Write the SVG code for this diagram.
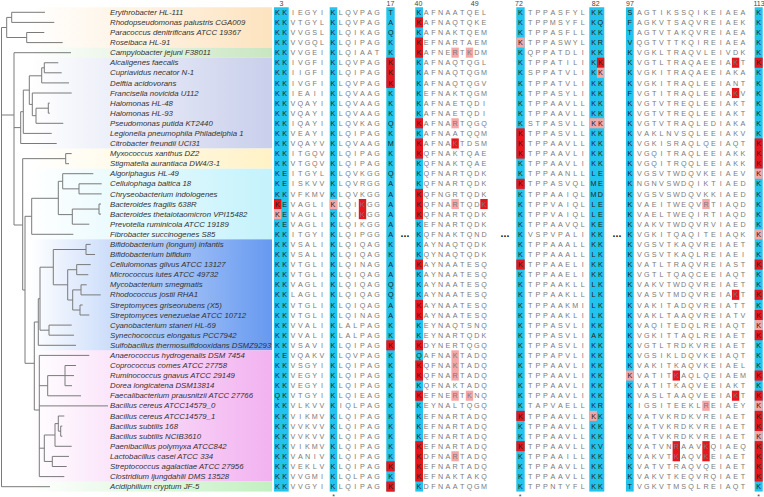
<svg xmlns="http://www.w3.org/2000/svg" width="764" height="497" viewBox="0 0 764 497">
<style>
.t{font-family:"Liberation Sans",Arial,sans-serif;font-style:italic;font-size:7.8px;fill:#333}
.s{font-family:"Liberation Sans",Arial,sans-serif;font-size:7.2px;fill:#7a7a7a;text-anchor:middle}
.h{fill:#222}
.hd{font-family:"Liberation Sans",Arial,sans-serif;font-size:7px;fill:#444;text-anchor:middle}
.dt{font-family:"Liberation Sans",Arial,sans-serif;font-size:10.5px;font-weight:bold;fill:#111;text-anchor:middle}
.cy{fill:#22c4ee}
.rd{fill:#e5171c}
.pk{fill:#f5a6a6}
#tree path{stroke:#7a7a7a;fill:none;stroke-width:1}
</style>
<defs>
<linearGradient id="gPe" gradientUnits="userSpaceOnUse" x1="30" y1="0" x2="272" y2="0"><stop offset="0" stop-color="#fde3bf" stop-opacity="0"/><stop offset="1" stop-color="#fde3bf"/></linearGradient>
<linearGradient id="gG1" gradientUnits="userSpaceOnUse" x1="30" y1="0" x2="272" y2="0"><stop offset="0" stop-color="#c8e6c0" stop-opacity="0"/><stop offset="1" stop-color="#c8e6c0"/></linearGradient>
<linearGradient id="gLa" gradientUnits="userSpaceOnUse" x1="30" y1="0" x2="272" y2="0"><stop offset="0" stop-color="#c9cfec" stop-opacity="0"/><stop offset="1" stop-color="#c9cfec"/></linearGradient>
<linearGradient id="gYe" gradientUnits="userSpaceOnUse" x1="30" y1="0" x2="272" y2="0"><stop offset="0" stop-color="#fff2c6" stop-opacity="0"/><stop offset="1" stop-color="#fff2c6"/></linearGradient>
<linearGradient id="gCy" gradientUnits="userSpaceOnUse" x1="30" y1="0" x2="272" y2="0"><stop offset="0" stop-color="#c4f2fb" stop-opacity="0"/><stop offset="1" stop-color="#c4f2fb"/></linearGradient>
<linearGradient id="gBl" gradientUnits="userSpaceOnUse" x1="30" y1="0" x2="272" y2="0"><stop offset="0" stop-color="#6699f0" stop-opacity="0"/><stop offset="1" stop-color="#6699f0"/></linearGradient>
<linearGradient id="gPi" gradientUnits="userSpaceOnUse" x1="30" y1="0" x2="272" y2="0"><stop offset="0" stop-color="#f2b2f0" stop-opacity="0"/><stop offset="1" stop-color="#f2b2f0"/></linearGradient>
<linearGradient id="gG2" gradientUnits="userSpaceOnUse" x1="30" y1="0" x2="272" y2="0"><stop offset="0" stop-color="#c2f0c0" stop-opacity="0"/><stop offset="1" stop-color="#c2f0c0"/></linearGradient>
</defs>
<rect width="764" height="497" fill="#fff"/>
<g id="bands">
<rect x="30" y="7.25" width="242" height="40.36" fill="url(#gPe)"/>
<rect x="30" y="47.61" width="242" height="10.09" fill="url(#gG1)"/>
<rect x="30" y="57.7" width="242" height="90.81" fill="url(#gLa)"/>
<rect x="30" y="148.51" width="242" height="20.18" fill="url(#gYe)"/>
<rect x="30" y="168.69" width="242" height="70.63" fill="url(#gCy)"/>
<rect x="30" y="239.32" width="242" height="110.99" fill="url(#gBl)"/>
<rect x="30" y="350.31" width="242" height="131.17" fill="url(#gPi)"/>
<rect x="30" y="481.48" width="242" height="10.09" fill="url(#gG2)"/>
</g>
<g id="columns">
<rect class="cy" x="274" y="7.25" width="14.7" height="484.32"/>
<rect class="cy" x="329.7" y="7.25" width="7.6" height="484.32"/>
<rect class="cy" x="386.3" y="7.25" width="8.4" height="484.32"/>
<rect class="cy" x="415.3" y="7.25" width="7.7" height="484.32"/>
<rect class="cy" x="516.3" y="7.25" width="8.4" height="484.32"/>
<rect class="cy" x="589.3" y="7.25" width="15" height="484.32"/>
<rect class="cy" x="626" y="7.25" width="7.7" height="484.32"/>
<rect class="cy" x="754.7" y="7.25" width="8" height="484.32"/>
</g>
<g id="marks">
<rect class="rd" x="386.3" y="57.7" width="8.4" height="30.27"/>
<rect class="rd" x="274" y="198.96" width="7.3" height="10.09"/>
<rect class="pk" x="274" y="209.05" width="7.3" height="10.09"/>
<rect class="pk" x="329.7" y="198.96" width="7.6" height="10.09"/>
<rect class="rd" x="358.8" y="198.96" width="7.4" height="20.18"/>
<rect class="rd" x="386.3" y="340.22" width="8.4" height="10.09"/>
<rect class="rd" x="386.3" y="461.3" width="8.4" height="10.09"/>
<rect class="rd" x="386.3" y="481.48" width="8.4" height="10.09"/>
<rect class="rd" x="415.3" y="17.34" width="7.7" height="10.09"/>
<rect class="rd" x="415.3" y="37.52" width="7.7" height="20.18"/>
<rect class="rd" x="415.3" y="118.24" width="7.7" height="10.09"/>
<rect class="rd" x="415.3" y="138.42" width="7.7" height="20.18"/>
<rect class="rd" x="415.3" y="188.87" width="7.7" height="30.27"/>
<rect class="rd" x="415.3" y="259.5" width="7.7" height="10.09"/>
<rect class="rd" x="415.3" y="299.86" width="7.7" height="20.18"/>
<rect class="rd" x="415.3" y="340.22" width="7.7" height="10.09"/>
<rect class="rd" x="415.3" y="360.4" width="7.7" height="20.18"/>
<rect class="rd" x="415.3" y="390.67" width="7.7" height="10.09"/>
<rect class="rd" x="415.3" y="441.12" width="7.7" height="40.36"/>
<rect class="pk" x="451.4" y="47.61" width="7.4" height="10.09"/>
<rect class="pk" x="451.4" y="118.24" width="7.4" height="10.09"/>
<rect class="rd" x="451.4" y="138.42" width="7.4" height="10.09"/>
<rect class="pk" x="451.4" y="198.96" width="7.4" height="10.09"/>
<rect class="pk" x="451.4" y="350.31" width="7.4" height="30.27"/>
<rect class="pk" x="451.4" y="390.67" width="7.4" height="10.09"/>
<rect class="pk" x="451.4" y="451.21" width="7.4" height="10.09"/>
<rect class="pk" x="465.8" y="47.61" width="7.4" height="10.09"/>
<rect class="pk" x="465.8" y="390.67" width="7.4" height="10.09"/>
<rect class="rd" x="480.3" y="198.96" width="7.4" height="10.09"/>
<rect class="pk" x="516.3" y="37.52" width="8.4" height="10.09"/>
<rect class="rd" x="516.3" y="128.33" width="8.4" height="30.27"/>
<rect class="rd" x="516.3" y="178.78" width="8.4" height="10.09"/>
<rect class="rd" x="516.3" y="259.5" width="8.4" height="10.09"/>
<rect class="rd" x="516.3" y="410.85" width="8.4" height="10.09"/>
<rect class="rd" x="516.3" y="441.12" width="8.4" height="10.09"/>
<rect class="rd" x="596.9" y="57.7" width="7.4" height="10.09"/>
<rect class="pk" x="596.9" y="67.79" width="7.4" height="10.09"/>
<rect class="pk" x="589.3" y="118.24" width="15" height="10.09"/>
<rect class="pk" x="589.3" y="410.85" width="7.6" height="10.09"/>
<rect class="pk" x="626" y="370.49" width="7.7" height="10.09"/>
<rect class="rd" x="672.6" y="370.49" width="7.4" height="10.09"/>
<rect class="rd" x="672.6" y="441.12" width="7.4" height="20.18"/>
<rect class="pk" x="702.3" y="198.96" width="7.4" height="10.09"/>
<rect class="pk" x="702.3" y="400.76" width="7.4" height="10.09"/>
<rect class="rd" x="702.3" y="441.12" width="7.4" height="20.18"/>
<rect class="rd" x="731.9" y="57.7" width="7.4" height="10.09"/>
<rect class="rd" x="731.9" y="87.97" width="7.4" height="10.09"/>
<rect class="rd" x="731.9" y="289.77" width="7.4" height="10.09"/>
<rect class="rd" x="731.9" y="390.67" width="7.4" height="10.09"/>
<rect class="rd" x="754.7" y="57.7" width="8" height="10.09"/>
<rect class="rd" x="754.7" y="138.42" width="8" height="30.27"/>
<rect class="pk" x="754.7" y="168.69" width="8" height="10.09"/>
<rect class="pk" x="754.7" y="229.23" width="8" height="10.09"/>
<rect class="rd" x="754.7" y="259.5" width="8" height="10.09"/>
<rect class="rd" x="754.7" y="289.77" width="8" height="10.09"/>
<rect class="rd" x="754.7" y="309.95" width="8" height="10.09"/>
<rect class="pk" x="754.7" y="320.04" width="8" height="10.09"/>
<rect class="rd" x="754.7" y="330.13" width="8" height="10.09"/>
<rect class="rd" x="754.7" y="370.49" width="8" height="10.09"/>
<rect class="rd" x="754.7" y="390.67" width="8" height="10.09"/>
<rect class="pk" x="754.7" y="400.76" width="8" height="10.09"/>
<rect class="rd" x="754.7" y="410.85" width="8" height="20.18"/>
<rect class="pk" x="754.7" y="431.03" width="8" height="10.09"/>
<rect class="rd" x="754.7" y="441.12" width="8" height="40.36"/>
</g>
<g id="header">
<text class="hd" x="281.5" y="6">3</text>
<text class="hd" x="390.5" y="6">17</text>
<text class="hd" x="418.5" y="6">40</text>
<text class="hd" x="474.7" y="6">49</text>
<text class="hd" x="519" y="6">72</text>
<text class="hd" x="595.7" y="6">82</text>
<text class="hd" x="630" y="6">97</text>
<text class="hd" x="759" y="6">113</text>
</g>
<g id="tree">
<path d="M1.5 27.5V486.7M1.5 27.5H6.7M1.5 115H14M1.5 486.7H50"/>
<path d="M6.7 17.4V37.5M6.7 17.4H11.7M6.7 37.5H26.7M11.7 12.3V22.4M11.7 12.3H45M11.7 22.4H54.3M26.7 32.5V42.6M26.7 32.5H44.3M26.7 42.6H62.7"/>
<path d="M14 52.7V225M14 52.7H71M14 127.6H20.7M14 225H22.7"/>
<path d="M20.7 111.7V143.5M20.7 111.7H23.3M20.7 143.5H56.7M23.3 90.1V133.4M23.3 90.1H29.3M23.3 133.4H51.7M29.3 75.8V104.4M29.3 75.8H41.7M29.3 104.4H32.3M41.7 67.8V82.9M41.7 67.8H44.3M41.7 82.9H69M44.3 62.75V72.8M44.3 62.75H58.3M44.3 72.8H61.7M32.3 93V115.7M32.3 93H71.7M32.3 115.7H36M36 108.2V123.3M36 108.2H48.3M36 123.3H63.3M48.3 103.1V113.2M48.3 103.1H49.8M48.3 113.2H49.8"/>
<path d="M22.7 158.65V290M22.7 158.65H65.7M22.7 290H25M65.7 153.6V163.7M65.7 153.6H71.7M65.7 163.7H69"/>
<path d="M25 216.3V363.3M25 216.3H31.7M25 363.3H34.3M31.7 198.3V234.3M31.7 198.3H58.3M31.7 234.3H73.3M58.3 181.3V214.6M58.3 181.3H62.7M58.3 214.6H72.3M62.7 173.7V188.85M62.7 173.7H93.3M62.7 188.85H79M79 183.8V193.9M79 183.8H101.7M79 193.9H101.7M72.3 209.05V224.2M72.3 209.05H99M72.3 224.2H89.3M99 204V214.1M99 204H101M99 214.1H101"/>
<path d="M34.3 322V410M34.3 322H38.3M34.3 410H39.3M38.3 298.7V345.3M38.3 298.7H40M38.3 345.3H76M40 267.2V330.2M40 267.2H53.3M40 330.2H49M49 325.1V335.2M49 325.1H71.7M49 335.2H74M53.3 249.5V284.8M53.3 249.5H86M53.3 284.8H67.7M86 244.4V254.5M86 244.4H90.7M86 254.5H95M67.7 269.7V300M67.7 269.7H76.7M67.7 300H72.7M76.7 264.6V274.7M76.7 264.6H90.7M76.7 274.7H88.3M72.7 289.9V310M72.7 289.9H81M72.7 310H80M81 284.8V294.9M81 284.8H86.7M81 294.9H100.7M80 305V315M80 305H82.7M80 315H89.3"/>
<path d="M39.3 355.4V476.6M39.3 355.4H89.3M39.3 385.7H47.7M39.3 405.9H108M39.3 448.2H44.3M39.3 476.6H64.3M47.7 375.6V395.8M47.7 375.6H65M47.7 395.8H81M65 365.5V385.7M65 365.5H76M65 375.6H74M65 385.7H72M44.3 435V461.45M44.3 435H55M44.3 461.45H52.3M55 423.6V446.3M55 423.6H58.3M55 446.3H71.7M58.3 416V431.15M58.3 416H64.3M58.3 431.15H60.7M60.7 426.1V436.2M60.7 426.1H62.3M60.7 436.2H62.3M52.3 456.4V466.5M52.3 456.4H69M52.3 466.5H66.7"/>
</g>
<g id="r1"><text class="t" x="110" y="14.9">Erythrobacter HL-111</text><text class="s" y="14.9" x="277.3 284.7 293 300.3 307.5 314.7 322 333 340.7 348 355.3 362.5 369.7 377 390.7"><tspan class="h">KK</tspan>IEGYI<tspan class="h">K</tspan>LQVPAG<tspan class="h">T</tspan></text><text class="s" y="14.9" x="419 426.2 433.4 440.7 447.9 455.1 462.3 469.5 476.8 484"><tspan class="h">K</tspan>AFNAATQEL</text><text class="s" y="14.9" x="520.4 530.3 537.8 545.3 552.8 560.3 567.7 575.2 582.7 593.6 600.4"><tspan class="h">K</tspan>TPPASFYL<tspan class="h">KK</tspan></text><text class="s" y="14.9" x="629.8 639.3 646.7 654.1 661.5 668.9 676.3 683.7 691.1 698.6 706 713.4 720.8 728.2 735.6 743 758.7"><tspan class="h">S</tspan>AGTIKSSQIKEIAEA<tspan class="h">K</tspan></text></g>
<g id="r2"><text class="t" x="110" y="25">Rhodopseudomonas palustris CGA009</text><text class="s" y="25" x="277.3 284.7 293 300.3 307.5 314.7 322 333 340.7 348 355.3 362.5 369.7 377 390.7"><tspan class="h">KK</tspan>VTGYL<tspan class="h">K</tspan>LQVPAG<tspan class="h">A</tspan></text><text class="s" y="25" x="419 426.2 433.4 440.7 447.9 455.1 462.3 469.5 476.8 484"><tspan class="h">K</tspan>AFNAQTQKE</text><text class="s" y="25" x="520.4 530.3 537.8 545.3 552.8 560.3 567.7 575.2 582.7 593.6 600.4"><tspan class="h">K</tspan>TPPMSYFL<tspan class="h">KQ</tspan></text><text class="s" y="25" x="629.8 639.3 646.7 654.1 661.5 668.9 676.3 683.7 691.1 698.6 706 713.4 720.8 728.2 735.6 743 758.7"><tspan class="h">F</tspan>AGKVTSAQVREIAEK<tspan class="h">K</tspan></text></g>
<g id="r3"><text class="t" x="110" y="35.1">Paracoccus denitrificans ATCC 19367</text><text class="s" y="35.1" x="277.3 284.7 293 300.3 307.5 314.7 322 333 340.7 348 355.3 362.5 369.7 377 390.7"><tspan class="h">KK</tspan>VVGSL<tspan class="h">K</tspan>LQIKAG<tspan class="h">Q</tspan></text><text class="s" y="35.1" x="419 426.2 433.4 440.7 447.9 455.1 462.3 469.5 476.8 484"><tspan class="h">K</tspan>AFNAKTQEM</text><text class="s" y="35.1" x="520.4 530.3 537.8 545.3 552.8 560.3 567.7 575.2 582.7 593.6 600.4"><tspan class="h">K</tspan>TPPASFLL<tspan class="h">KK</tspan></text><text class="s" y="35.1" x="629.8 639.3 646.7 654.1 661.5 668.9 676.3 683.7 691.1 698.6 706 713.4 720.8 728.2 735.6 743 758.7"><tspan class="h">T</tspan>AGTVTAKQVREIAEA<tspan class="h">K</tspan></text></g>
<g id="r4"><text class="t" x="110" y="45.2">Roseibaca HL-91</text><text class="s" y="45.2" x="277.3 284.7 293 300.3 307.5 314.7 322 333 340.7 348 355.3 362.5 369.7 377 390.7"><tspan class="h">KK</tspan>VVGQL<tspan class="h">K</tspan>LQIPAG<tspan class="h">K</tspan></text><text class="s" y="45.2" x="419 426.2 433.4 440.7 447.9 455.1 462.3 469.5 476.8 484"><tspan class="h">K</tspan>EFNARTAEM</text><text class="s" y="45.2" x="520.4 530.3 537.8 545.3 552.8 560.3 567.7 575.2 582.7 593.6 600.4"><tspan class="h">K</tspan>TPPASWYL<tspan class="h">KR</tspan></text><text class="s" y="45.2" x="629.8 639.3 646.7 654.1 661.5 668.9 676.3 683.7 691.1 698.6 706 713.4 720.8 728.2 735.6 743 758.7"><tspan class="h">V</tspan>QGTVTTKQIREIAEA<tspan class="h">K</tspan></text></g>
<g id="r5"><text class="t" x="110" y="55.3">Campylobacter jejuni F38011</text><text class="s" y="55.3" x="277.3 284.7 293 300.3 307.5 314.7 322 333 340.7 348 355.3 362.5 369.7 377 390.7"><tspan class="h">KK</tspan>VVGEI<tspan class="h">K</tspan>LQIAAT<tspan class="h">K</tspan></text><text class="s" y="55.3" x="419 426.2 433.4 440.7 447.9 455.1 462.3 469.5 476.8 484"><tspan class="h">K</tspan>AFNERTKDM</text><text class="s" y="55.3" x="520.4 530.3 537.8 545.3 552.8 560.3 567.7 575.2 582.7 593.6 600.4"><tspan class="h">K</tspan>QPPATDLI<tspan class="h">KK</tspan></text><text class="s" y="55.3" x="629.8 639.3 646.7 654.1 661.5 668.9 676.3 683.7 691.1 698.6 706 713.4 720.8 728.2 735.6 743 758.7"><tspan class="h">K</tspan>VGKLTRAQVLEIVDK<tspan class="h">K</tspan></text></g>
<g id="r6"><text class="t" x="110" y="65.4">Alcaligenes faecalis</text><text class="s" y="65.4" x="277.3 284.7 293 300.3 307.5 314.7 322 333 340.7 348 355.3 362.5 369.7 377 390.7"><tspan class="h">KK</tspan>IVGFI<tspan class="h">K</tspan>LQVPAG<tspan class="h">K</tspan></text><text class="s" y="65.4" x="419 426.2 433.4 440.7 447.9 455.1 462.3 469.5 476.8 484"><tspan class="h">K</tspan>AFNAQTQGL</text><text class="s" y="65.4" x="520.4 530.3 537.8 545.3 552.8 560.3 567.7 575.2 582.7 593.6 600.4"><tspan class="h">K</tspan>TPPATILI<tspan class="h">KK</tspan></text><text class="s" y="65.4" x="629.8 639.3 646.7 654.1 661.5 668.9 676.3 683.7 691.1 698.6 706 713.4 720.8 728.2 735.6 743 758.7"><tspan class="h">K</tspan>VGTLTRAQAEEIAKT<tspan class="h">K</tspan></text></g>
<g id="r7"><text class="t" x="110" y="75.4">Cupriavidus necator N-1</text><text class="s" y="75.4" x="277.3 284.7 293 300.3 307.5 314.7 322 333 340.7 348 355.3 362.5 369.7 377 390.7"><tspan class="h">KK</tspan>IIGFI<tspan class="h">K</tspan>LQIPAG<tspan class="h">K</tspan></text><text class="s" y="75.4" x="419 426.2 433.4 440.7 447.9 455.1 462.3 469.5 476.8 484"><tspan class="h">K</tspan>AFNAQTQGM</text><text class="s" y="75.4" x="520.4 530.3 537.8 545.3 552.8 560.3 567.7 575.2 582.7 593.6 600.4"><tspan class="h">K</tspan>SPPATVLI<tspan class="h">KK</tspan></text><text class="s" y="75.4" x="629.8 639.3 646.7 654.1 661.5 668.9 676.3 683.7 691.1 698.6 706 713.4 720.8 728.2 735.6 743 758.7"><tspan class="h">K</tspan>VGKITRAQAEEIAKA<tspan class="h">K</tspan></text></g>
<g id="r8"><text class="t" x="110" y="85.5">Delftia acidovorans</text><text class="s" y="85.5" x="277.3 284.7 293 300.3 307.5 314.7 322 333 340.7 348 355.3 362.5 369.7 377 390.7"><tspan class="h">KK</tspan>IVGFI<tspan class="h">K</tspan>LQVPAG<tspan class="h">K</tspan></text><text class="s" y="85.5" x="419 426.2 433.4 440.7 447.9 455.1 462.3 469.5 476.8 484"><tspan class="h">K</tspan>AFNAQTQGV</text><text class="s" y="85.5" x="520.4 530.3 537.8 545.3 552.8 560.3 567.7 575.2 582.7 593.6 600.4"><tspan class="h">K</tspan>TPPATVLI<tspan class="h">KK</tspan></text><text class="s" y="85.5" x="629.8 639.3 646.7 654.1 661.5 668.9 676.3 683.7 691.1 698.6 706 713.4 720.8 728.2 735.6 743 758.7"><tspan class="h">K</tspan>VGKITRAQLEEIANT<tspan class="h">K</tspan></text></g>
<g id="r9"><text class="t" x="110" y="95.6">Francisella novicida U112</text><text class="s" y="95.6" x="277.3 284.7 293 300.3 307.5 314.7 322 333 340.7 348 355.3 362.5 369.7 377 390.7"><tspan class="h">KK</tspan>IEAII<tspan class="h">K</tspan>LQVAAG<tspan class="h">K</tspan></text><text class="s" y="95.6" x="419 426.2 433.4 440.7 447.9 455.1 462.3 469.5 476.8 484"><tspan class="h">K</tspan>EFNAKTQGM</text><text class="s" y="95.6" x="520.4 530.3 537.8 545.3 552.8 560.3 567.7 575.2 582.7 593.6 600.4"><tspan class="h">K</tspan>TPPASYLI<tspan class="h">KK</tspan></text><text class="s" y="95.6" x="629.8 639.3 646.7 654.1 661.5 668.9 676.3 683.7 691.1 698.6 706 713.4 720.8 728.2 735.6 743 758.7"><tspan class="h">F</tspan>VGTITRAQLEEIAKV<tspan class="h">K</tspan></text></g>
<g id="r10"><text class="t" x="110" y="105.7">Halomonas HL-48</text><text class="s" y="105.7" x="277.3 284.7 293 300.3 307.5 314.7 322 333 340.7 348 355.3 362.5 369.7 377 390.7"><tspan class="h">KK</tspan>VQAYI<tspan class="h">K</tspan>LQVAAG<tspan class="h">K</tspan></text><text class="s" y="105.7" x="419 426.2 433.4 440.7 447.9 455.1 462.3 469.5 476.8 484"><tspan class="h">K</tspan>AFNAETQDI</text><text class="s" y="105.7" x="520.4 530.3 537.8 545.3 552.8 560.3 567.7 575.2 582.7 593.6 600.4"><tspan class="h">K</tspan>TPPAAVLL<tspan class="h">KK</tspan></text><text class="s" y="105.7" x="629.8 639.3 646.7 654.1 661.5 668.9 676.3 683.7 691.1 698.6 706 713.4 720.8 728.2 735.6 743 758.7"><tspan class="h">K</tspan>VGTVTREQLEEIAKT<tspan class="h">K</tspan></text></g>
<g id="r11"><text class="t" x="110" y="115.8">Halomonas HL-93</text><text class="s" y="115.8" x="277.3 284.7 293 300.3 307.5 314.7 322 333 340.7 348 355.3 362.5 369.7 377 390.7"><tspan class="h">KK</tspan>VQAYI<tspan class="h">K</tspan>LQVAAG<tspan class="h">K</tspan></text><text class="s" y="115.8" x="419 426.2 433.4 440.7 447.9 455.1 462.3 469.5 476.8 484"><tspan class="h">K</tspan>AFNAETQDI</text><text class="s" y="115.8" x="520.4 530.3 537.8 545.3 552.8 560.3 567.7 575.2 582.7 593.6 600.4"><tspan class="h">K</tspan>TPPAAVLL<tspan class="h">KK</tspan></text><text class="s" y="115.8" x="629.8 639.3 646.7 654.1 661.5 668.9 676.3 683.7 691.1 698.6 706 713.4 720.8 728.2 735.6 743 758.7"><tspan class="h">K</tspan>VGTVTREQLEEIAKT<tspan class="h">K</tspan></text></g>
<g id="r12"><text class="t" x="110" y="125.9">Pseudomonas putida KT2440</text><text class="s" y="125.9" x="277.3 284.7 293 300.3 307.5 314.7 322 333 340.7 348 355.3 362.5 369.7 377 390.7"><tspan class="h">KK</tspan>IQAYI<tspan class="h">K</tspan>LQVKAG<tspan class="h">Q</tspan></text><text class="s" y="125.9" x="419 426.2 433.4 440.7 447.9 455.1 462.3 469.5 476.8 484"><tspan class="h">K</tspan>AFNARTQGQ</text><text class="s" y="125.9" x="520.4 530.3 537.8 545.3 552.8 560.3 567.7 575.2 582.7 593.6 600.4"><tspan class="h">K</tspan>STPASVLL<tspan class="h">KK</tspan></text><text class="s" y="125.9" x="629.8 639.3 646.7 654.1 661.5 668.9 676.3 683.7 691.1 698.6 706 713.4 720.8 728.2 735.6 743 758.7"><tspan class="h">K</tspan>VGTVTRAQLEDIAKA<tspan class="h">K</tspan></text></g>
<g id="r13"><text class="t" x="110" y="136">Legionella pneumophila Philadelphia 1</text><text class="s" y="136" x="277.3 284.7 293 300.3 307.5 314.7 322 333 340.7 348 355.3 362.5 369.7 377 390.7"><tspan class="h">KK</tspan>VEAYI<tspan class="h">K</tspan>LQIPAG<tspan class="h">K</tspan></text><text class="s" y="136" x="419 426.2 433.4 440.7 447.9 455.1 462.3 469.5 476.8 484"><tspan class="h">K</tspan>AFNAATQQM</text><text class="s" y="136" x="520.4 530.3 537.8 545.3 552.8 560.3 567.7 575.2 582.7 593.6 600.4"><tspan class="h">K</tspan>TPPASVLL<tspan class="h">KK</tspan></text><text class="s" y="136" x="629.8 639.3 646.7 654.1 661.5 668.9 676.3 683.7 691.1 698.6 706 713.4 720.8 728.2 735.6 743 758.7"><tspan class="h">K</tspan>VAKLNVSQLEEIAKV<tspan class="h">K</tspan></text></g>
<g id="r14"><text class="t" x="110" y="146.1">Citrobacter freundii UCI31</text><text class="s" y="146.1" x="277.3 284.7 293 300.3 307.5 314.7 322 333 340.7 348 355.3 362.5 369.7 377 390.7"><tspan class="h">KK</tspan>VQAYV<tspan class="h">K</tspan>LQVAAG<tspan class="h">M</tspan></text><text class="s" y="146.1" x="419 426.2 433.4 440.7 447.9 455.1 462.3 469.5 476.8 484"><tspan class="h">K</tspan>AFNAKTDSM</text><text class="s" y="146.1" x="520.4 530.3 537.8 545.3 552.8 560.3 567.7 575.2 582.7 593.6 600.4"><tspan class="h">K</tspan>TPPAAVLL<tspan class="h">KK</tspan></text><text class="s" y="146.1" x="629.8 639.3 646.7 654.1 661.5 668.9 676.3 683.7 691.1 698.6 706 713.4 720.8 728.2 735.6 743 758.7"><tspan class="h">K</tspan>VGKISRAQLQEIAQT<tspan class="h">K</tspan></text></g>
<g id="r15"><text class="t" x="110" y="156.2">Myxococcus xanthus DZ2</text><text class="s" y="156.2" x="277.3 284.7 293 300.3 307.5 314.7 322 333 340.7 348 355.3 362.5 369.7 377 390.7"><tspan class="h">KK</tspan>ITGQV<tspan class="h">K</tspan>LQIPAG<tspan class="h">K</tspan></text><text class="s" y="156.2" x="419 426.2 433.4 440.7 447.9 455.1 462.3 469.5 476.8 484"><tspan class="h">K</tspan>QFNAKTQAE</text><text class="s" y="156.2" x="520.4 530.3 537.8 545.3 552.8 560.3 567.7 575.2 582.7 593.6 600.4"><tspan class="h">K</tspan>TPPAAVLI<tspan class="h">KK</tspan></text><text class="s" y="156.2" x="629.8 639.3 646.7 654.1 661.5 668.9 676.3 683.7 691.1 698.6 706 713.4 720.8 728.2 735.6 743 758.7"><tspan class="h">K</tspan>VGQITRAQLEEIAKK<tspan class="h">K</tspan></text></g>
<g id="r16"><text class="t" x="110" y="166.3">Stigmatella aurantiaca DW4/3-1</text><text class="s" y="166.3" x="277.3 284.7 293 300.3 307.5 314.7 322 333 340.7 348 355.3 362.5 369.7 377 390.7"><tspan class="h">KK</tspan>VTGQV<tspan class="h">K</tspan>LQIPAG<tspan class="h">K</tspan></text><text class="s" y="166.3" x="419 426.2 433.4 440.7 447.9 455.1 462.3 469.5 476.8 484"><tspan class="h">K</tspan>QFNAKTQAE</text><text class="s" y="166.3" x="520.4 530.3 537.8 545.3 552.8 560.3 567.7 575.2 582.7 593.6 600.4"><tspan class="h">K</tspan>TPPAAVLI<tspan class="h">KK</tspan></text><text class="s" y="166.3" x="629.8 639.3 646.7 654.1 661.5 668.9 676.3 683.7 691.1 698.6 706 713.4 720.8 728.2 735.6 743 758.7"><tspan class="h">K</tspan>VGQITRQQLEEIAKK<tspan class="h">K</tspan></text></g>
<g id="r17"><text class="t" x="110" y="176.3">Algoriphagus HL-49</text><text class="s" y="176.3" x="277.3 284.7 293 300.3 307.5 314.7 322 333 340.7 348 355.3 362.5 369.7 377 390.7"><tspan class="h">KE</tspan>ITGYL<tspan class="h">K</tspan>LQVKGG<tspan class="h">Q</tspan></text><text class="s" y="176.3" x="419 426.2 433.4 440.7 447.9 455.1 462.3 469.5 476.8 484"><tspan class="h">K</tspan>QFNARTQDK</text><text class="s" y="176.3" x="520.4 530.3 537.8 545.3 552.8 560.3 567.7 575.2 582.7 593.6 600.4"><tspan class="h">K</tspan>TPPAANLL<tspan class="h">LE</tspan></text><text class="s" y="176.3" x="629.8 639.3 646.7 654.1 661.5 668.9 676.3 683.7 691.1 698.6 706 713.4 720.8 728.2 735.6 743 758.7"><tspan class="h">K</tspan>VGSVTWDQVKEIAEV<tspan class="h">K</tspan></text></g>
<g id="r18"><text class="t" x="110" y="186.4">Cellulophaga baltica 18</text><text class="s" y="186.4" x="277.3 284.7 293 300.3 307.5 314.7 322 333 340.7 348 355.3 362.5 369.7 377 390.7"><tspan class="h">KE</tspan>ISKVV<tspan class="h">K</tspan>LQVRGG<tspan class="h">A</tspan></text><text class="s" y="186.4" x="419 426.2 433.4 440.7 447.9 455.1 462.3 469.5 476.8 484"><tspan class="h">K</tspan>QFNARTQDK</text><text class="s" y="186.4" x="520.4 530.3 537.8 545.3 552.8 560.3 567.7 575.2 582.7 593.6 600.4"><tspan class="h">K</tspan>TPPASVQL<tspan class="h">ME</tspan></text><text class="s" y="186.4" x="629.8 639.3 646.7 654.1 661.5 668.9 676.3 683.7 691.1 698.6 706 713.4 720.8 728.2 735.6 743 758.7"><tspan class="h">K</tspan>NGNVSWDQIKTIAED<tspan class="h">K</tspan></text></g>
<g id="r19"><text class="t" x="110" y="196.5">Chryseobacterium indologenes</text><text class="s" y="196.5" x="277.3 284.7 293 300.3 307.5 314.7 322 333 340.7 348 355.3 362.5 369.7 377 390.7"><tspan class="h">KK</tspan>VFKMV<tspan class="h">K</tspan>LQVKGG<tspan class="h">A</tspan></text><text class="s" y="196.5" x="419 426.2 433.4 440.7 447.9 455.1 462.3 469.5 476.8 484"><tspan class="h">K</tspan>QFNGRTQDK</text><text class="s" y="196.5" x="520.4 530.3 537.8 545.3 552.8 560.3 567.7 575.2 582.7 593.6 600.4"><tspan class="h">K</tspan>TPPAAIQL<tspan class="h">MD</tspan></text><text class="s" y="196.5" x="629.8 639.3 646.7 654.1 661.5 668.9 676.3 683.7 691.1 698.6 706 713.4 720.8 728.2 735.6 743 758.7"><tspan class="h">K</tspan>VGSVSWDQVKKIAED<tspan class="h">K</tspan></text></g>
<g id="r20"><text class="t" x="110" y="206.6">Bacteroides fragilis 638R</text><text class="s" y="206.6" x="277.3 284.7 293 300.3 307.5 314.7 322 333 340.7 348 355.3 362.5 369.7 377 390.7"><tspan class="h">KE</tspan>VAGLI<tspan class="h">K</tspan>LQIKGG<tspan class="h">A</tspan></text><text class="s" y="206.6" x="419 426.2 433.4 440.7 447.9 455.1 462.3 469.5 476.8 484"><tspan class="h">K</tspan>QFNARTQDK</text><text class="s" y="206.6" x="520.4 530.3 537.8 545.3 552.8 560.3 567.7 575.2 582.7 593.6 600.4"><tspan class="h">K</tspan>TPPVAIQL<tspan class="h">LE</tspan></text><text class="s" y="206.6" x="629.8 639.3 646.7 654.1 661.5 668.9 676.3 683.7 691.1 698.6 706 713.4 720.8 728.2 735.6 743 758.7"><tspan class="h">K</tspan>VAEITWEQVRTIAQD<tspan class="h">K</tspan></text></g>
<g id="r21"><text class="t" x="110" y="216.7">Bacteroides thetaiotaomicron VPI15482</text><text class="s" y="216.7" x="277.3 284.7 293 300.3 307.5 314.7 322 333 340.7 348 355.3 362.5 369.7 377 390.7"><tspan class="h">KE</tspan>VAGLI<tspan class="h">K</tspan>LQIKGG<tspan class="h">A</tspan></text><text class="s" y="216.7" x="419 426.2 433.4 440.7 447.9 455.1 462.3 469.5 476.8 484"><tspan class="h">K</tspan>QFNARTQDK</text><text class="s" y="216.7" x="520.4 530.3 537.8 545.3 552.8 560.3 567.7 575.2 582.7 593.6 600.4"><tspan class="h">K</tspan>TPPVAIQL<tspan class="h">LE</tspan></text><text class="s" y="216.7" x="629.8 639.3 646.7 654.1 661.5 668.9 676.3 683.7 691.1 698.6 706 713.4 720.8 728.2 735.6 743 758.7"><tspan class="h">K</tspan>VAELTWEQIRTIAQD<tspan class="h">K</tspan></text></g>
<g id="r22"><text class="t" x="110" y="226.8">Prevotella ruminicola ATCC 19189</text><text class="s" y="226.8" x="277.3 284.7 293 300.3 307.5 314.7 322 333 340.7 348 355.3 362.5 369.7 377 390.7"><tspan class="h">KE</tspan>VAGLI<tspan class="h">K</tspan>LQIKGG<tspan class="h">A</tspan></text><text class="s" y="226.8" x="419 426.2 433.4 440.7 447.9 455.1 462.3 469.5 476.8 484"><tspan class="h">K</tspan>EFNARTQDK</text><text class="s" y="226.8" x="520.4 530.3 537.8 545.3 552.8 560.3 567.7 575.2 582.7 593.6 600.4"><tspan class="h">K</tspan>TPPAAVQL<tspan class="h">KE</tspan></text><text class="s" y="226.8" x="629.8 639.3 646.7 654.1 661.5 668.9 676.3 683.7 691.1 698.6 706 713.4 720.8 728.2 735.6 743 758.7"><tspan class="h">K</tspan>VAKVTWDQVRVIAED<tspan class="h">K</tspan></text></g>
<g id="r23"><text class="t" x="110" y="236.9">Fibrobacter succinogenes S85</text><text class="s" y="236.9" x="277.3 284.7 293 300.3 307.5 314.7 322 333 340.7 348 355.3 362.5 369.7 377 390.7"><tspan class="h">KK</tspan>ITGYI<tspan class="h">K</tspan>LQIPGG<tspan class="h">A</tspan></text><text class="s" y="236.9" x="419 426.2 433.4 440.7 447.9 455.1 462.3 469.5 476.8 484"><tspan class="h">K</tspan>QFNAKTQND</text><text class="s" y="236.9" x="520.4 530.3 537.8 545.3 552.8 560.3 567.7 575.2 582.7 593.6 600.4"><tspan class="h">K</tspan>VSPVPALI<tspan class="h">KK</tspan></text><text class="s" y="236.9" x="629.8 639.3 646.7 654.1 661.5 668.9 676.3 683.7 691.1 698.6 706 713.4 720.8 728.2 735.6 743 758.7"><tspan class="h">K</tspan>VGKITQAQITEIAQK<tspan class="h">K</tspan></text></g>
<g id="r24"><text class="t" x="110" y="247">Bifidobacterium (longum) infantis</text><text class="s" y="247" x="277.3 284.7 293 300.3 307.5 314.7 322 333 340.7 348 355.3 362.5 369.7 377 390.7"><tspan class="h">KK</tspan>VSALI<tspan class="h">K</tspan>LQIQAG<tspan class="h">K</tspan></text><text class="s" y="247" x="419 426.2 433.4 440.7 447.9 455.1 462.3 469.5 476.8 484"><tspan class="h">K</tspan>AYNAQTQDK</text><text class="s" y="247" x="520.4 530.3 537.8 545.3 552.8 560.3 567.7 575.2 582.7 593.6 600.4"><tspan class="h">K</tspan>TPPAAALL<tspan class="h">KK</tspan></text><text class="s" y="247" x="629.8 639.3 646.7 654.1 661.5 668.9 676.3 683.7 691.1 698.6 706 713.4 720.8 728.2 735.6 743 758.7"><tspan class="h">K</tspan>VGSVTKAQVREIAET<tspan class="h">K</tspan></text></g>
<g id="r25"><text class="t" x="110" y="257.1">Bifidobacterium bifidum</text><text class="s" y="257.1" x="277.3 284.7 293 300.3 307.5 314.7 322 333 340.7 348 355.3 362.5 369.7 377 390.7"><tspan class="h">KK</tspan>VSALI<tspan class="h">K</tspan>LQIQAG<tspan class="h">K</tspan></text><text class="s" y="257.1" x="419 426.2 433.4 440.7 447.9 455.1 462.3 469.5 476.8 484"><tspan class="h">K</tspan>QYNAQTQDK</text><text class="s" y="257.1" x="520.4 530.3 537.8 545.3 552.8 560.3 567.7 575.2 582.7 593.6 600.4"><tspan class="h">K</tspan>TPPAAALL<tspan class="h">LK</tspan></text><text class="s" y="257.1" x="629.8 639.3 646.7 654.1 661.5 668.9 676.3 683.7 691.1 698.6 706 713.4 720.8 728.2 735.6 743 758.7"><tspan class="h">K</tspan>VGSVTKAQLREIAEI<tspan class="h">K</tspan></text></g>
<g id="r26"><text class="t" x="110" y="267.2">Cellulomonas gilvus ATCC 13127</text><text class="s" y="267.2" x="277.3 284.7 293 300.3 307.5 314.7 322 333 340.7 348 355.3 362.5 369.7 377 390.7"><tspan class="h">KK</tspan>VTGLI<tspan class="h">K</tspan>LQINAG<tspan class="h">A</tspan></text><text class="s" y="267.2" x="419 426.2 433.4 440.7 447.9 455.1 462.3 469.5 476.8 484"><tspan class="h">K</tspan>AYNAATESQ</text><text class="s" y="267.2" x="520.4 530.3 537.8 545.3 552.8 560.3 567.7 575.2 582.7 593.6 600.4"><tspan class="h">K</tspan>TPPAAELI<tspan class="h">KK</tspan></text><text class="s" y="267.2" x="629.8 639.3 646.7 654.1 661.5 668.9 676.3 683.7 691.1 698.6 706 713.4 720.8 728.2 735.6 743 758.7"><tspan class="h">K</tspan>VATLTRAQVREIAST<tspan class="h">K</tspan></text></g>
<g id="r27"><text class="t" x="110" y="277.2">Micrococcus lutes ATCC 49732</text><text class="s" y="277.2" x="277.3 284.7 293 300.3 307.5 314.7 322 333 340.7 348 355.3 362.5 369.7 377 390.7"><tspan class="h">KK</tspan>VTGLI<tspan class="h">K</tspan>LQIQAG<tspan class="h">A</tspan></text><text class="s" y="277.2" x="419 426.2 433.4 440.7 447.9 455.1 462.3 469.5 476.8 484"><tspan class="h">K</tspan>AYNAATESQ</text><text class="s" y="277.2" x="520.4 530.3 537.8 545.3 552.8 560.3 567.7 575.2 582.7 593.6 600.4"><tspan class="h">K</tspan>TPPAAELI<tspan class="h">KK</tspan></text><text class="s" y="277.2" x="629.8 639.3 646.7 654.1 661.5 668.9 676.3 683.7 691.1 698.6 706 713.4 720.8 728.2 735.6 743 758.7"><tspan class="h">K</tspan>VGTLTQAQCEEIAQT<tspan class="h">K</tspan></text></g>
<g id="r28"><text class="t" x="110" y="287.3">Mycobacterium smegmatis</text><text class="s" y="287.3" x="277.3 284.7 293 300.3 307.5 314.7 322 333 340.7 348 355.3 362.5 369.7 377 390.7"><tspan class="h">KK</tspan>VAGLI<tspan class="h">K</tspan>LQIQAG<tspan class="h">Q</tspan></text><text class="s" y="287.3" x="419 426.2 433.4 440.7 447.9 455.1 462.3 469.5 476.8 484"><tspan class="h">K</tspan>AYNAATESQ</text><text class="s" y="287.3" x="520.4 530.3 537.8 545.3 552.8 560.3 567.7 575.2 582.7 593.6 600.4"><tspan class="h">K</tspan>TPPAAKLL<tspan class="h">LK</tspan></text><text class="s" y="287.3" x="629.8 639.3 646.7 654.1 661.5 668.9 676.3 683.7 691.1 698.6 706 713.4 720.8 728.2 735.6 743 758.7"><tspan class="h">K</tspan>VAKVTWDQVREIAET<tspan class="h">K</tspan></text></g>
<g id="r29"><text class="t" x="110" y="297.4">Rhodococcus jostii RHA1</text><text class="s" y="297.4" x="277.3 284.7 293 300.3 307.5 314.7 322 333 340.7 348 355.3 362.5 369.7 377 390.7"><tspan class="h">KK</tspan>LAGLI<tspan class="h">K</tspan>LQIQAG<tspan class="h">Q</tspan></text><text class="s" y="297.4" x="419 426.2 433.4 440.7 447.9 455.1 462.3 469.5 476.8 484"><tspan class="h">K</tspan>AYNAATESQ</text><text class="s" y="297.4" x="520.4 530.3 537.8 545.3 552.8 560.3 567.7 575.2 582.7 593.6 600.4"><tspan class="h">K</tspan>TPPAAKLL<tspan class="h">LK</tspan></text><text class="s" y="297.4" x="629.8 639.3 646.7 654.1 661.5 668.9 676.3 683.7 691.1 698.6 706 713.4 720.8 728.2 735.6 743 758.7"><tspan class="h">K</tspan>VASVTMDQVREIAKT<tspan class="h">K</tspan></text></g>
<g id="r30"><text class="t" x="110" y="307.5">Streptomyces griseorubens (X5)</text><text class="s" y="307.5" x="277.3 284.7 293 300.3 307.5 314.7 322 333 340.7 348 355.3 362.5 369.7 377 390.7"><tspan class="h">KK</tspan>VTGLI<tspan class="h">K</tspan>LQIQAG<tspan class="h">A</tspan></text><text class="s" y="307.5" x="419 426.2 433.4 440.7 447.9 455.1 462.3 469.5 476.8 484"><tspan class="h">K</tspan>AYNAATESQ</text><text class="s" y="307.5" x="520.4 530.3 537.8 545.3 552.8 560.3 567.7 575.2 582.7 593.6 600.4"><tspan class="h">K</tspan>TPPAAKMI<tspan class="h">LK</tspan></text><text class="s" y="307.5" x="629.8 639.3 646.7 654.1 661.5 668.9 676.3 683.7 691.1 698.6 706 713.4 720.8 728.2 735.6 743 758.7"><tspan class="h">K</tspan>VAKITADQVREIATT<tspan class="h">K</tspan></text></g>
<g id="r31"><text class="t" x="110" y="317.6">Streptomyces venezuelae ATCC 10712</text><text class="s" y="317.6" x="277.3 284.7 293 300.3 307.5 314.7 322 333 340.7 348 355.3 362.5 369.7 377 390.7"><tspan class="h">KK</tspan>VTGLI<tspan class="h">K</tspan>LQINAG<tspan class="h">A</tspan></text><text class="s" y="317.6" x="419 426.2 433.4 440.7 447.9 455.1 462.3 469.5 476.8 484"><tspan class="h">K</tspan>AYNAATESQ</text><text class="s" y="317.6" x="520.4 530.3 537.8 545.3 552.8 560.3 567.7 575.2 582.7 593.6 600.4"><tspan class="h">K</tspan>TPPAAKLI<tspan class="h">LK</tspan></text><text class="s" y="317.6" x="629.8 639.3 646.7 654.1 661.5 668.9 676.3 683.7 691.1 698.6 706 713.4 720.8 728.2 735.6 743 758.7"><tspan class="h">K</tspan>VAKLTAAQVREIATV<tspan class="h">K</tspan></text></g>
<g id="r32"><text class="t" x="110" y="327.7">Cyanobacterium staneri HL-69</text><text class="s" y="327.7" x="277.3 284.7 293 300.3 307.5 314.7 322 333 340.7 348 355.3 362.5 369.7 377 390.7"><tspan class="h">KK</tspan>VVALI<tspan class="h">K</tspan>LALPAG<tspan class="h">K</tspan></text><text class="s" y="327.7" x="419 426.2 433.4 440.7 447.9 455.1 462.3 469.5 476.8 484"><tspan class="h">K</tspan>EYNAQTSNQ</text><text class="s" y="327.7" x="520.4 530.3 537.8 545.3 552.8 560.3 567.7 575.2 582.7 593.6 600.4"><tspan class="h">K</tspan>TPPASVLI<tspan class="h">KK</tspan></text><text class="s" y="327.7" x="629.8 639.3 646.7 654.1 661.5 668.9 676.3 683.7 691.1 698.6 706 713.4 720.8 728.2 735.6 743 758.7"><tspan class="h">K</tspan>VAQITEDQLREIAQT<tspan class="h">K</tspan></text></g>
<g id="r33"><text class="t" x="110" y="337.8">Synechococcus elongatus PCC7942</text><text class="s" y="337.8" x="277.3 284.7 293 300.3 307.5 314.7 322 333 340.7 348 355.3 362.5 369.7 377 390.7"><tspan class="h">KK</tspan>VVALI<tspan class="h">K</tspan>LALPAG<tspan class="h">K</tspan></text><text class="s" y="337.8" x="419 426.2 433.4 440.7 447.9 455.1 462.3 469.5 476.8 484"><tspan class="h">K</tspan>EYNARTQDK</text><text class="s" y="337.8" x="520.4 530.3 537.8 545.3 552.8 560.3 567.7 575.2 582.7 593.6 600.4"><tspan class="h">K</tspan>TPPASVLI<tspan class="h">AK</tspan></text><text class="s" y="337.8" x="629.8 639.3 646.7 654.1 661.5 668.9 676.3 683.7 691.1 698.6 706 713.4 720.8 728.2 735.6 743 758.7"><tspan class="h">K</tspan>VGKITTAQLREIAET<tspan class="h">K</tspan></text></g>
<g id="r34"><text class="t" x="110" y="347.9">Sulfobacillus thermosulfidooxidans DSMZ9293</text><text class="s" y="347.9" x="277.3 284.7 293 300.3 307.5 314.7 322 333 340.7 348 355.3 362.5 369.7 377 390.7"><tspan class="h">KK</tspan>VSAVI<tspan class="h">K</tspan>LQIPAG<tspan class="h">K</tspan></text><text class="s" y="347.9" x="419 426.2 433.4 440.7 447.9 455.1 462.3 469.5 476.8 484"><tspan class="h">K</tspan>DYNERTQGQ</text><text class="s" y="347.9" x="520.4 530.3 537.8 545.3 552.8 560.3 567.7 575.2 582.7 593.6 600.4"><tspan class="h">K</tspan>TPPASVLI<tspan class="h">KK</tspan></text><text class="s" y="347.9" x="629.8 639.3 646.7 654.1 661.5 668.9 676.3 683.7 691.1 698.6 706 713.4 720.8 728.2 735.6 743 758.7"><tspan class="h">K</tspan>VGTLTRDKVREIAET<tspan class="h">K</tspan></text></g>
<g id="r35"><text class="t" x="110" y="358">Anaerococcus hydrogenalis DSM 7454</text><text class="s" y="358" x="277.3 284.7 293 300.3 307.5 314.7 322 333 340.7 348 355.3 362.5 369.7 377 390.7"><tspan class="h">KE</tspan>VQAKV<tspan class="h">K</tspan>LQVPAG<tspan class="h">K</tspan></text><text class="s" y="358" x="419 426.2 433.4 440.7 447.9 455.1 462.3 469.5 476.8 484"><tspan class="h">Q</tspan>AFNAKTADQ</text><text class="s" y="358" x="520.4 530.3 537.8 545.3 552.8 560.3 567.7 575.2 582.7 593.6 600.4"><tspan class="h">K</tspan>TPPAPVLI<tspan class="h">KK</tspan></text><text class="s" y="358" x="629.8 639.3 646.7 654.1 661.5 668.9 676.3 683.7 691.1 698.6 706 713.4 720.8 728.2 735.6 743 758.7"><tspan class="h">K</tspan>VGSIKLDQVKEIAQT<tspan class="h">K</tspan></text></g>
<g id="r36"><text class="t" x="110" y="368.1">Coprococcus comes ATCC 27758</text><text class="s" y="368.1" x="277.3 284.7 293 300.3 307.5 314.7 322 333 340.7 348 355.3 362.5 369.7 377 390.7"><tspan class="h">KK</tspan>VSGYI<tspan class="h">K</tspan>LQIPAG<tspan class="h">K</tspan></text><text class="s" y="368.1" x="419 426.2 433.4 440.7 447.9 455.1 462.3 469.5 476.8 484"><tspan class="h">K</tspan>QFNAKTADQ</text><text class="s" y="368.1" x="520.4 530.3 537.8 545.3 552.8 560.3 567.7 575.2 582.7 593.6 600.4"><tspan class="h">K</tspan>TPPAAVLI<tspan class="h">KK</tspan></text><text class="s" y="368.1" x="629.8 639.3 646.7 654.1 661.5 668.9 676.3 683.7 691.1 698.6 706 713.4 720.8 728.2 735.6 743 758.7"><tspan class="h">K</tspan>VAKITKAQVKEIAEL<tspan class="h">K</tspan></text></g>
<g id="r37"><text class="t" x="110" y="378.1">Ruminococcus gnavus ATCC 29149</text><text class="s" y="378.1" x="277.3 284.7 293 300.3 307.5 314.7 322 333 340.7 348 355.3 362.5 369.7 377 390.7"><tspan class="h">KK</tspan>VEGYI<tspan class="h">K</tspan>LQIPAG<tspan class="h">K</tspan></text><text class="s" y="378.1" x="419 426.2 433.4 440.7 447.9 455.1 462.3 469.5 476.8 484"><tspan class="h">K</tspan>QFNARTADQ</text><text class="s" y="378.1" x="520.4 530.3 537.8 545.3 552.8 560.3 567.7 575.2 582.7 593.6 600.4"><tspan class="h">K</tspan>TPPAAVLI<tspan class="h">KK</tspan></text><text class="s" y="378.1" x="629.8 639.3 646.7 654.1 661.5 668.9 676.3 683.7 691.1 698.6 706 713.4 720.8 728.2 735.6 743 758.7"><tspan class="h">K</tspan>VATITKAQLQEIAEM<tspan class="h">K</tspan></text></g>
<g id="r38"><text class="t" x="110" y="388.2">Dorea longicatena DSM13814</text><text class="s" y="388.2" x="277.3 284.7 293 300.3 307.5 314.7 322 333 340.7 348 355.3 362.5 369.7 377 390.7"><tspan class="h">KK</tspan>VEGYI<tspan class="h">K</tspan>LQIPAG<tspan class="h">K</tspan></text><text class="s" y="388.2" x="419 426.2 433.4 440.7 447.9 455.1 462.3 469.5 476.8 484"><tspan class="h">K</tspan>QFNAKTADQ</text><text class="s" y="388.2" x="520.4 530.3 537.8 545.3 552.8 560.3 567.7 575.2 582.7 593.6 600.4"><tspan class="h">K</tspan>TPPAAVLI<tspan class="h">KK</tspan></text><text class="s" y="388.2" x="629.8 639.3 646.7 654.1 661.5 668.9 676.3 683.7 691.1 698.6 706 713.4 720.8 728.2 735.6 743 758.7"><tspan class="h">K</tspan>VATITKAQVEEIAKT<tspan class="h">K</tspan></text></g>
<g id="r39"><text class="t" x="110" y="398.3">Faecalibacterium prausnitzii ATCC 27766</text><text class="s" y="398.3" x="277.3 284.7 293 300.3 307.5 314.7 322 333 340.7 348 355.3 362.5 369.7 377 390.7"><tspan class="h">QK</tspan>VTGYI<tspan class="h">K</tspan>LQIEAG<tspan class="h">K</tspan></text><text class="s" y="398.3" x="419 426.2 433.4 440.7 447.9 455.1 462.3 469.5 476.8 484"><tspan class="h">K</tspan>EFNERTKNQ</text><text class="s" y="398.3" x="520.4 530.3 537.8 545.3 552.8 560.3 567.7 575.2 582.7 593.6 600.4"><tspan class="h">K</tspan>TPPAAVLI<tspan class="h">KK</tspan></text><text class="s" y="398.3" x="629.8 639.3 646.7 654.1 661.5 668.9 676.3 683.7 691.1 698.6 706 713.4 720.8 728.2 735.6 743 758.7"><tspan class="h">K</tspan>VASLTAAQVEEIAKT<tspan class="h">K</tspan></text></g>
<g id="r40"><text class="t" x="110" y="408.4">Bacillus cereus ATCC14579_0</text><text class="s" y="408.4" x="277.3 284.7 293 300.3 307.5 314.7 322 333 340.7 348 355.3 362.5 369.7 377 390.7"><tspan class="h">KK</tspan>VLKVV<tspan class="h">K</tspan>IQLPAG<tspan class="h">K</tspan></text><text class="s" y="408.4" x="419 426.2 433.4 440.7 447.9 455.1 462.3 469.5 476.8 484"><tspan class="h">K</tspan>EYNALTQGQ</text><text class="s" y="408.4" x="520.4 530.3 537.8 545.3 552.8 560.3 567.7 575.2 582.7 593.6 600.4"><tspan class="h">K</tspan>TAPVAELL<tspan class="h">KR</tspan></text><text class="s" y="408.4" x="629.8 639.3 646.7 654.1 661.5 668.9 676.3 683.7 691.1 698.6 706 713.4 720.8 728.2 735.6 743 758.7"><tspan class="h">K</tspan>IGSITEEKLREIAEY<tspan class="h">K</tspan></text></g>
<g id="r41"><text class="t" x="110" y="418.5">Bacillus cereus ATCC14579_1</text><text class="s" y="418.5" x="277.3 284.7 293 300.3 307.5 314.7 322 333 340.7 348 355.3 362.5 369.7 377 390.7"><tspan class="h">KK</tspan>VIKMV<tspan class="h">K</tspan>LQIPAG<tspan class="h">K</tspan></text><text class="s" y="418.5" x="419 426.2 433.4 440.7 447.9 455.1 462.3 469.5 476.8 484"><tspan class="h">K</tspan>EFNARTADQ</text><text class="s" y="418.5" x="520.4 530.3 537.8 545.3 552.8 560.3 567.7 575.2 582.7 593.6 600.4"><tspan class="h">K</tspan>TPPAAVLL<tspan class="h">KK</tspan></text><text class="s" y="418.5" x="629.8 639.3 646.7 654.1 661.5 668.9 676.3 683.7 691.1 698.6 706 713.4 720.8 728.2 735.6 743 758.7"><tspan class="h">K</tspan>VATVKRDKVREIAET<tspan class="h">K</tspan></text></g>
<g id="r42"><text class="t" x="110" y="428.6">Bacillus subtilis 168</text><text class="s" y="428.6" x="277.3 284.7 293 300.3 307.5 314.7 322 333 340.7 348 355.3 362.5 369.7 377 390.7"><tspan class="h">KK</tspan>VVKVV<tspan class="h">K</tspan>LQIPAG<tspan class="h">K</tspan></text><text class="s" y="428.6" x="419 426.2 433.4 440.7 447.9 455.1 462.3 469.5 476.8 484"><tspan class="h">K</tspan>EFNARTADQ</text><text class="s" y="428.6" x="520.4 530.3 537.8 545.3 552.8 560.3 567.7 575.2 582.7 593.6 600.4"><tspan class="h">K</tspan>TPPAAVLL<tspan class="h">KK</tspan></text><text class="s" y="428.6" x="629.8 639.3 646.7 654.1 661.5 668.9 676.3 683.7 691.1 698.6 706 713.4 720.8 728.2 735.6 743 758.7"><tspan class="h">K</tspan>VATVKRDKVREIAET<tspan class="h">K</tspan></text></g>
<g id="r43"><text class="t" x="110" y="438.7">Bacillus subtilis NCIB3610</text><text class="s" y="438.7" x="277.3 284.7 293 300.3 307.5 314.7 322 333 340.7 348 355.3 362.5 369.7 377 390.7"><tspan class="h">KK</tspan>VVKVV<tspan class="h">K</tspan>LQIPAG<tspan class="h">K</tspan></text><text class="s" y="438.7" x="419 426.2 433.4 440.7 447.9 455.1 462.3 469.5 476.8 484"><tspan class="h">K</tspan>EFNARTADQ</text><text class="s" y="438.7" x="520.4 530.3 537.8 545.3 552.8 560.3 567.7 575.2 582.7 593.6 600.4"><tspan class="h">K</tspan>TPPAAVLL<tspan class="h">KK</tspan></text><text class="s" y="438.7" x="629.8 639.3 646.7 654.1 661.5 668.9 676.3 683.7 691.1 698.6 706 713.4 720.8 728.2 735.6 743 758.7"><tspan class="h">K</tspan>VATVKRDKVREIAET<tspan class="h">K</tspan></text></g>
<g id="r44"><text class="t" x="110" y="448.8">Paenibacillus polymyxa ATCC842</text><text class="s" y="448.8" x="277.3 284.7 293 300.3 307.5 314.7 322 333 340.7 348 355.3 362.5 369.7 377 390.7"><tspan class="h">KK</tspan>VIKMV<tspan class="h">K</tspan>LQIPAG<tspan class="h">K</tspan></text><text class="s" y="448.8" x="419 426.2 433.4 440.7 447.9 455.1 462.3 469.5 476.8 484"><tspan class="h">K</tspan>EFNARTADQ</text><text class="s" y="448.8" x="520.4 530.3 537.8 545.3 552.8 560.3 567.7 575.2 582.7 593.6 600.4"><tspan class="h">K</tspan>TPPAAVLL<tspan class="h">KV</tspan></text><text class="s" y="448.8" x="629.8 639.3 646.7 654.1 661.5 668.9 676.3 683.7 691.1 698.6 706 713.4 720.8 728.2 735.6 743 758.7"><tspan class="h">K</tspan>VATVNRAAVKQIAEQ<tspan class="h">K</tspan></text></g>
<g id="r45"><text class="t" x="110" y="458.9">Lactobacillus casei ATCC 334</text><text class="s" y="458.9" x="277.3 284.7 293 300.3 307.5 314.7 322 333 340.7 348 355.3 362.5 369.7 377 390.7"><tspan class="h">KK</tspan>VANIV<tspan class="h">K</tspan>LQIPAG<tspan class="h">K</tspan></text><text class="s" y="458.9" x="419 426.2 433.4 440.7 447.9 455.1 462.3 469.5 476.8 484"><tspan class="h">K</tspan>DFNARTADQ</text><text class="s" y="458.9" x="520.4 530.3 537.8 545.3 552.8 560.3 567.7 575.2 582.7 593.6 600.4"><tspan class="h">K</tspan>TPPAAILL<tspan class="h">KK</tspan></text><text class="s" y="458.9" x="629.8 639.3 646.7 654.1 661.5 668.9 676.3 683.7 691.1 698.6 706 713.4 720.8 728.2 735.6 743 758.7"><tspan class="h">K</tspan>VAKVTKAQVKEIAET<tspan class="h">K</tspan></text></g>
<g id="r46"><text class="t" x="110" y="469">Streptococcus agalactiae ATCC 27956</text><text class="s" y="469" x="277.3 284.7 293 300.3 307.5 314.7 322 333 340.7 348 355.3 362.5 369.7 377 390.7"><tspan class="h">KK</tspan>VEKLV<tspan class="h">K</tspan>LQIPAG<tspan class="h">K</tspan></text><text class="s" y="469" x="419 426.2 433.4 440.7 447.9 455.1 462.3 469.5 476.8 484"><tspan class="h">K</tspan>EFNARTADQ</text><text class="s" y="469" x="520.4 530.3 537.8 545.3 552.8 560.3 567.7 575.2 582.7 593.6 600.4"><tspan class="h">K</tspan>TPPAAVLL<tspan class="h">KK</tspan></text><text class="s" y="469" x="629.8 639.3 646.7 654.1 661.5 668.9 676.3 683.7 691.1 698.6 706 713.4 720.8 728.2 735.6 743 758.7"><tspan class="h">K</tspan>VATVTRAQVQEIAET<tspan class="h">K</tspan></text></g>
<g id="r47"><text class="t" x="110" y="479">Clostridium ljungdahlii DMS 13528</text><text class="s" y="479" x="277.3 284.7 293 300.3 307.5 314.7 322 333 340.7 348 355.3 362.5 369.7 377 390.7"><tspan class="h">KK</tspan>VVGMI<tspan class="h">K</tspan>LQLPAG<tspan class="h">K</tspan></text><text class="s" y="479" x="419 426.2 433.4 440.7 447.9 455.1 462.3 469.5 476.8 484"><tspan class="h">K</tspan>EFNAKTAKQ</text><text class="s" y="479" x="520.4 530.3 537.8 545.3 552.8 560.3 567.7 575.2 582.7 593.6 600.4"><tspan class="h">K</tspan>TPPAAVLL<tspan class="h">KK</tspan></text><text class="s" y="479" x="629.8 639.3 646.7 654.1 661.5 668.9 676.3 683.7 691.1 698.6 706 713.4 720.8 728.2 735.6 743 758.7"><tspan class="h">K</tspan>VAKVTKEQVRQIAET<tspan class="h">K</tspan></text></g>
<g id="r48"><text class="t" x="110" y="489.1">Acidiphilium cryptum JF-5</text><text class="s" y="489.1" x="277.3 284.7 293 300.3 307.5 314.7 322 333 340.7 348 355.3 362.5 369.7 377 390.7"><tspan class="h">KK</tspan>VVGYI<tspan class="h">K</tspan>LQIPAG<tspan class="h">K</tspan></text><text class="s" y="489.1" x="419 426.2 433.4 440.7 447.9 455.1 462.3 469.5 476.8 484"><tspan class="h">K</tspan>DFNAATQGM</text><text class="s" y="489.1" x="520.4 530.3 537.8 545.3 552.8 560.3 567.7 575.2 582.7 593.6 600.4"><tspan class="h">K</tspan>TPPNTYFL<tspan class="h">KK</tspan></text><text class="s" y="489.1" x="629.8 639.3 646.7 654.1 661.5 668.9 676.3 683.7 691.1 698.6 706 713.4 720.8 728.2 735.6 743 758.7"><tspan class="h">T</tspan>VGKVTMSQLREIAQT<tspan class="h">K</tspan></text></g>
<g id="gaps">
<text class="dt" x="405" y="237">...</text>
<text class="dt" x="505" y="237">...</text>
<text class="dt" x="617" y="237">...</text>
</g>
<g id="stars">
<text class="hd" x="333.5" y="498.5">*</text>
<text class="hd" x="520" y="498.5">*</text>
<text class="hd" x="758.5" y="498.5">*</text>
</g>
</svg>
